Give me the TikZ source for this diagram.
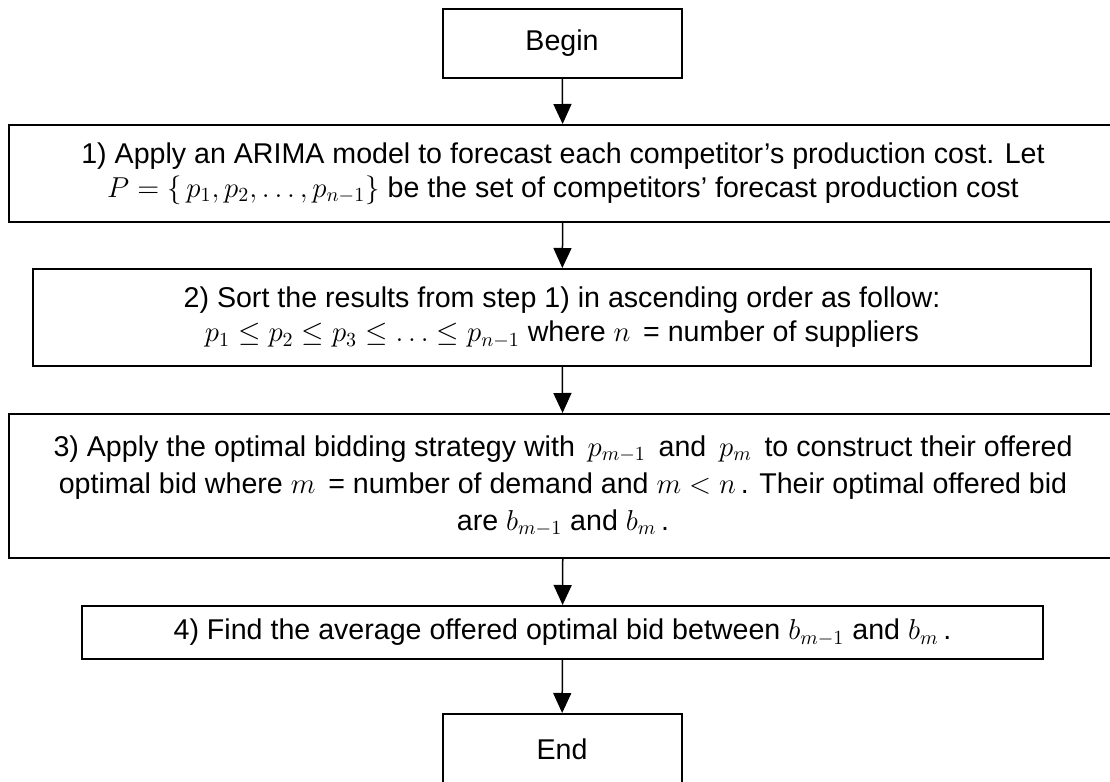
\documentclass[tikz,border=0pt]{standalone}
\usepackage{fontspec}
\setmainfont{Liberation Sans}
\usetikzlibrary{arrows.meta}
\tikzset{
  box/.style={draw=black, line width=1pt, inner sep=0pt, align=center,
    font=\fontsize{14.3}{17}\selectfont, text=black},
  flow/.style={draw=black, line width=0.75pt, -{Triangle[length=10pt,width=9pt]}}
}
\begin{document}
\begin{tikzpicture}[x=0.5pt,y=-0.5pt]
\useasboundingbox (0,0) rectangle (1110,782);
\node[box, minimum width=119.5pt, minimum height=34.5pt] (begin) at (562,43.5) {Begin};
\node[box, minimum width=554pt, minimum height=48.5pt] (s1) at (563,173.5)
  {1) Apply an ARIMA model to forecast each competitor’s production cost. Let\\
   $P=\{\,p_1,p_2,\ldots,p_{n-1}\}$ be the set of competitors’ forecast production cost};
\node[box, minimum width=529pt, minimum height=48.5pt] (s2) at (562,317.5)
  {2) Sort the results from step 1) in ascending order as follow:\\
   $p_1\le p_2\le p_3\le\ldots\le p_{n-1}$ where $n$ \,= number of suppliers};
\node[box, minimum width=554pt, minimum height=72pt] (s3) at (563,486)
  {3) Apply the optimal bidding strategy with \,$p_{m-1}$\, and \,$p_m$\, to construct their offered\\[1.5pt]
   optimal bid where $m$ \,= number of demand and $m<n$\,. Their optimal offered bid\\[1.5pt]
   are $b_{m-1}$ and $b_m$\,.};
\node[box, minimum width=480.5pt, minimum height=26.5pt] (s4) at (562.5,632.5)
  {4) Find the average offered optimal bid between $b_{m-1}$ and $b_m$\,.};
\node[box, minimum width=119.5pt, minimum height=35pt] (end) at (562,749) {End};
\draw[flow] (begin) -- (s1);
\draw[flow] (s1) -- (s2);
\draw[flow] (s2) -- (s3);
\draw[flow] (s3) -- (s4);
\draw[flow] (s4) -- (end);
\end{tikzpicture}
\end{document}
